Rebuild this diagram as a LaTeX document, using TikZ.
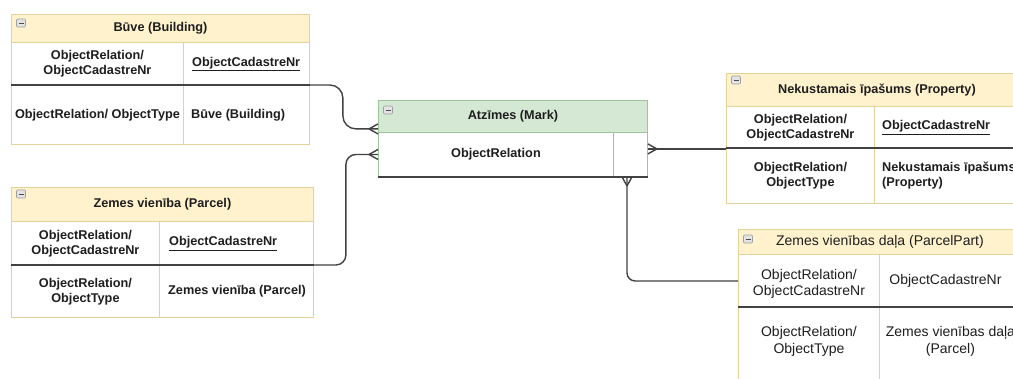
\documentclass[tikz,border=0pt]{standalone}
\usepackage{fontspec}
\setmainfont{Liberation Sans}
\usetikzlibrary{calc}
\definecolor{yhead}{HTML}{FFF2CC}
\definecolor{ybord}{HTML}{E3D39A}
\definecolor{ghead}{HTML}{D5E8D4}
\definecolor{gbord}{HTML}{9DC49B}
\definecolor{dkline}{HTML}{424242}
\definecolor{txt}{HTML}{1E1E1E}
\newcommand\bfnt{\bfseries\fontsize{12.7}{14.8}\selectfont}
\newcommand\rfnt{\fontsize{14}{16.8}\selectfont}
\begin{document}
\begin{tikzpicture}[x=1pt,y=-1pt,
  cellbase/.style={anchor=north west, inner sep=0pt, line width=0.9pt},
  yhdr/.style={cellbase, draw=ybord, fill=yhead},
  ghdr/.style={cellbase, draw=gbord, fill=ghead},
  ycell/.style={cellbase, draw=ybord, fill=white},
  gcell/.style={cellbase, draw=gbord, fill=white},
  tb/.style={inner sep=0pt, text=txt, align=center, font=\bfnt},
  tr/.style={inner sep=0pt, text=txt, align=center, font=\rfnt},
  tbl/.style={tb, anchor=west, align=left},
  divider/.style={draw=dkline, line width=1.5pt},
  conn/.style={draw=dkline, line width=1.4pt},
  minus/.style={draw=gray!75, fill=gray!22, rounded corners=1pt, line width=0.6pt,
    minimum width=9pt, minimum height=8pt, inner sep=0pt,
    path picture={\draw[black!70, line width=1pt]
      ([xshift=2pt]path picture bounding box.west) -- ([xshift=-2pt]path picture bounding box.east);}}
]
\useasboundingbox (0,0) rectangle (1013,378);
\clip (0,0) rectangle (1013,378);
\fill[white] (0,0) rectangle (1013,378);

% ---------- Buve (Building)
\node[yhdr, minimum width=298pt, minimum height=28pt] (bh) at (11,14) {};
\node[ycell, minimum width=172pt, minimum height=43pt] (b11) at (11,42) {};
\node[ycell, minimum width=126pt, minimum height=43pt] (b12) at (183,42) {};
\node[ycell, minimum width=172pt, minimum height=59pt] (b21) at (11,85) {};
\node[ycell, minimum width=126pt, minimum height=59pt] (b22) at (183,85) {};
\node[minus] (bm) at ($(bh.north west)+(10,9)$) {};
\node[tb] (bht) at (bh.center) {Būve (Building)};
\node[tb] (b11t) at (b11.center) {ObjectRelation/\\ObjectCadastreNr};
\node[tbl] (b12t) at ($(b12.west)+(9,0)$) {\underline{ObjectCadastreNr}};
\node[tb] (b21t) at (b21.center) {ObjectRelation/ ObjectType};
\node[tbl] (b22t) at ($(b22.west)+(8,0)$) {Būve (Building)};

% ---------- Zemes vieniba (Parcel)
\node[yhdr, minimum width=302pt, minimum height=34pt] (ph) at (11,187) {};
\node[ycell, minimum width=148pt, minimum height=44pt] (p11) at (11,221) {};
\node[ycell, minimum width=154pt, minimum height=44pt] (p12) at (159,221) {};
\node[ycell, minimum width=148pt, minimum height=52pt] (p21) at (11,265) {};
\node[ycell, minimum width=154pt, minimum height=52pt] (p22) at (159,265) {};
\node[minus] (pm) at ($(ph.north west)+(10,7)$) {};
\node[tb] (pht) at (ph.center) {Zemes vienība (Parcel)};
\node[tb] (p11t) at (p11.center) {ObjectRelation/\\ObjectCadastreNr};
\node[tbl] (p12t) at ($(p12.west)+(10,0)$) {\underline{ObjectCadastreNr}};
\node[tb] (p21t) at (p21.center) {ObjectRelation/\\ObjectType};
\node[tbl] (p22t) at ($(p22.west)+(9,0)$) {Zemes vienība (Parcel)};

% ---------- Atzimes (Mark)
\node[ghdr, minimum width=269pt, minimum height=32pt] (mh) at (378,100) {};
\node[gcell, minimum width=235pt, minimum height=44pt] (m21) at (378,132) {};
\node[gcell, minimum width=34pt, minimum height=44pt] (m22) at (613,132) {};
\node[minus] (mm) at ($(mh.north west)+(10,10)$) {};
\node[tb] (mht) at (mh.center) {Atzīmes (Mark)};
\node[tb] (m21t) at (m21.center) {ObjectRelation};

% ---------- Nekustamais ipasums (Property)
\node[yhdr, minimum width=301pt, minimum height=33pt] (nh) at (726,73) {};
\node[ycell, minimum width=148pt, minimum height=42pt] (n11) at (726,106) {};
\node[ycell, minimum width=153pt, minimum height=42pt] (n12) at (874,106) {};
\node[ycell, minimum width=148pt, minimum height=55pt] (n21) at (726,148) {};
\node[ycell, minimum width=153pt, minimum height=55pt] (n22) at (874,148) {};
\node[minus] (nm) at ($(nh.north west)+(10,7)$) {};
\node[tb] (nht) at (nh.center) {Nekustamais īpašums (Property)};
\node[tb] (n11t) at (n11.center) {ObjectRelation/\\ObjectCadastreNr};
\node[tbl] (n12t) at ($(n12.west)+(8,0)$) {\underline{ObjectCadastreNr}};
\node[tb] (n21t) at (n21.center) {ObjectRelation/\\ObjectType};
\node[tbl] (n22t) at ($(n22.west)+(8,0)$) {Nekustamais īpašums\\(Property)};

% ---------- Zemes vienibas dala (ParcelPart)
\node[yhdr, minimum width=283pt, minimum height=25pt] (dh) at (738,229) {};
\node[ycell, minimum width=141pt, minimum height=53pt] (d11) at (738,254) {};
\node[ycell, minimum width=142pt, minimum height=53pt] (d12) at (879,254) {};
\node[ycell, minimum width=141pt, minimum height=80pt] (d21) at (738,307) {};
\node[ycell, minimum width=142pt, minimum height=80pt] (d22) at (879,307) {};
\node[minus] (dm) at ($(dh.north west)+(10,10)$) {};
\node[tr] (dht) at (dh.center) {Zemes vienības daļa (ParcelPart)};
\node[tr] (d11t) at ($(d11.center)+(0,3)$) {ObjectRelation/\\ObjectCadastreNr};
\node[tr] (d12t) at ($(d12.center)+(-5,0)$) {ObjectCadastreNr};
\node[tr] (d21t) at ($(d21.north)+(0,34)$) {ObjectRelation/\\ObjectType};
\node[tr] (d22t) at ($(d22.north)+(0,34)$) {Zemes vienības daļa\\(Parcel)};

% ---------- dark row dividers
\draw[divider] (b21.north west) -- (b22.north east);
\draw[divider] (p21.north west) -- (p22.north east);
\draw[divider] (n21.north west) -- (n22.north east);
\draw[divider] (d21.north west) -- (d22.north east);
\draw[divider] (m21.south west) -- (m22.south east);

% ---------- attachment points
\coordinate (mIn1) at ($(mh.south west)+(0,-4)$);
\coordinate (mOut) at (m22.east |- n11.south west);
\coordinate (mDown) at ($(m22.south west)+(14,0)$);

% ---------- connectors
\draw[conn, rounded corners=13pt] (b22.north east) -- ++(33,0) |- (mIn1);
\draw[conn, rounded corners=10pt] (p22.north east) -- ++(32,0) |- (m21.west);
\draw[conn] (mOut) -- (n11.south west);
\draw[conn, rounded corners=8pt] (mDown) |- (d11.west);

% ---------- crow's feet
\draw[conn] ($(mIn1)+(-9,0)$) -- ($(mIn1)+(0,-5)$) ($(mIn1)+(-9,0)$) -- ($(mIn1)+(0,5)$);
\draw[conn] ($(m21.west)+(-9,0)$) -- ($(m21.west)+(0,-5)$) ($(m21.west)+(-9,0)$) -- ($(m21.west)+(0,5)$);
\draw[conn] ($(mOut)+(9,0)$) -- ($(mOut)+(0,-5)$) ($(mOut)+(9,0)$) -- ($(mOut)+(0,5)$);
\draw[conn] ($(mDown)+(0,9)$) -- ($(mDown)+(-5,0)$) ($(mDown)+(0,9)$) -- ($(mDown)+(5,0)$);
\end{tikzpicture}
\end{document}
